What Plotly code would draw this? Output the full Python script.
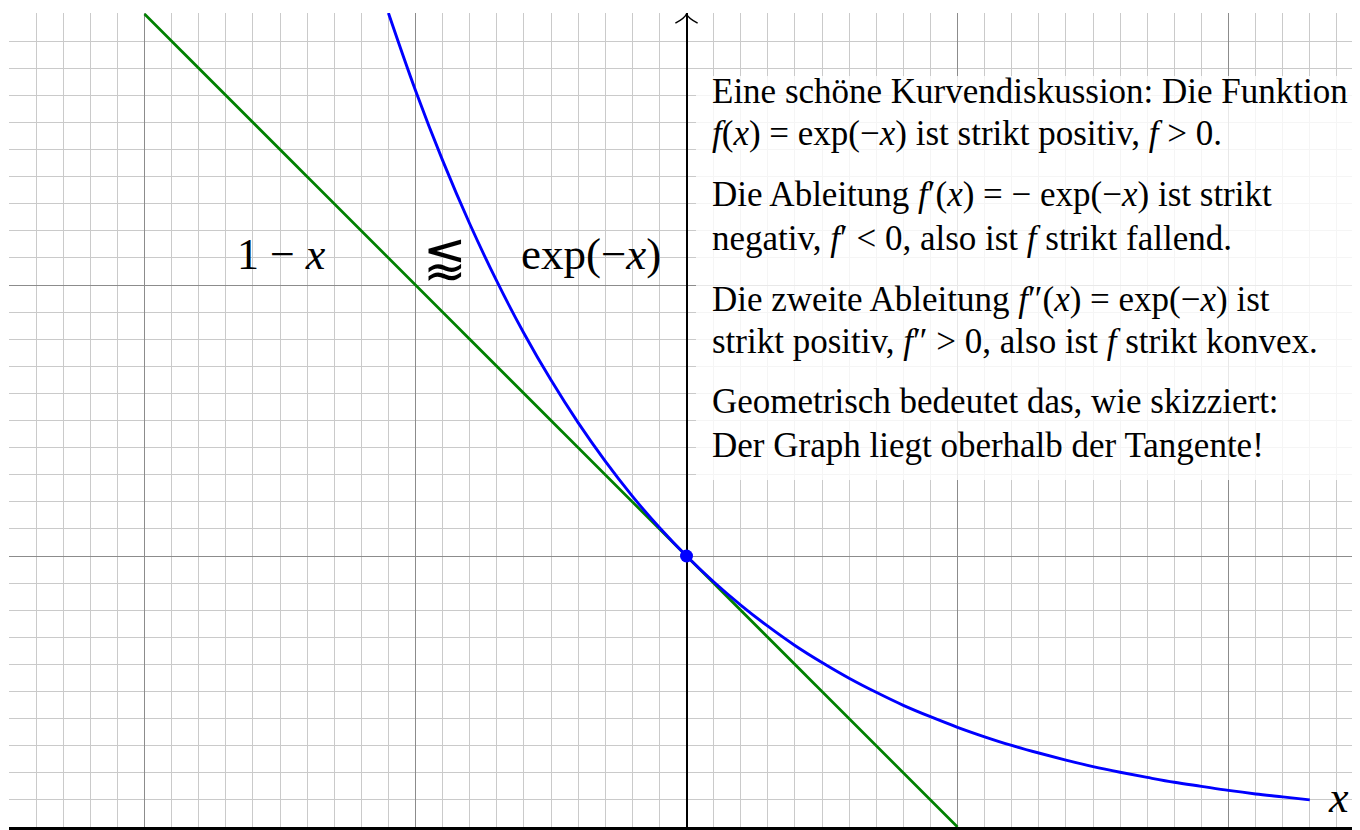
import plotly.graph_objects as go

# exp(-x)
curve_x = [-1.1, -1.0, -0.9, -0.8, -0.7, -0.6, -0.5, -0.4, -0.3, -0.2, -0.1, 0.0,
           0.1, 0.2, 0.3, 0.4, 0.5, 0.6, 0.7, 0.8, 0.9, 1.0, 1.1, 1.2, 1.3, 1.4,
           1.5, 1.6, 1.7, 1.8, 1.9, 2.0, 2.1, 2.2, 2.3]
curve_y = [3.004, 2.718, 2.460, 2.226, 2.014, 1.822, 1.649, 1.492, 1.350, 1.221,
           1.105, 1.000, 0.905, 0.819, 0.741, 0.670, 0.607, 0.549, 0.497, 0.449,
           0.407, 0.368, 0.333, 0.301, 0.273, 0.247, 0.223, 0.202, 0.183, 0.165,
           0.150, 0.135, 0.122, 0.111, 0.100]

# tangent 1 - x
tangent_x = [-2.0, 1.0]
tangent_y = [3.0, 0.0]

# point of contact
point_x = [0.0]
point_y = [1.0]

text_lines = [
    "Eine schöne Kurvendiskussion: Die Funktion",
    "<i>f</i>(<i>x</i>) = exp(−<i>x</i>) ist strikt positiv, <i>f</i> &gt; 0.",
    "Die Ableitung <i>f</i>′(<i>x</i>) = − exp(−<i>x</i>) ist strikt",
    "negativ, <i>f</i>′ &lt; 0, also ist <i>f</i> strikt fallend.",
    "Die zweite Ableitung <i>f</i>″(<i>x</i>) = exp(−<i>x</i>) ist",
    "strikt positiv, <i>f</i>″ &gt; 0, also ist <i>f</i> strikt konvex.",
    "Geometrisch bedeutet das, wie skizziert:",
    "Der Graph liegt oberhalb der Tangente!",
]
text_baselines = [103, 145, 206, 250, 311, 353, 413, 457]

# page body has an 8px margin, so the figure is a bit smaller than the window
PAGE_OFF = 8
W, H = 1360 - PAGE_OFF, 830 - PAGE_OFF
ML, MT, MB = 9 - PAGE_OFF, 13 - PAGE_OFF, 3
UNIT = 271.0
BOTTOM = 827  # page y of the x axis


def dx(px):
    return -2.5 + (px - 9) / UNIT


def dy(py):
    return (BOTTOM - py) / UNIT


SERIF = "Liberation Serif, Times New Roman, serif"

fig = go.Figure()

fig.add_trace(go.Scatter(x=tangent_x, y=tangent_y, mode="lines",
                         line=dict(color="#008000", width=2.7),
                         showlegend=False, hoverinfo="skip"))
fig.add_trace(go.Scatter(x=curve_x, y=curve_y, mode="lines",
                         line=dict(color="#0000ff", width=2.9, shape="spline"),
                         showlegend=False, hoverinfo="skip"))
fig.add_trace(go.Scatter(x=point_x, y=point_y, mode="markers",
                         marker=dict(color="#0000ff", size=13),
                         showlegend=False, hoverinfo="skip"))

# white, slightly see-through box behind the explanation
fig.add_shape(type="rect", x0=dx(696), x1=dx(1365), y0=dy(480), y1=dy(76),
              fillcolor="rgba(255,255,255,0.8)", line=dict(width=0), layer="above")

# arrow head of the y axis
fig.add_shape(type="path",
              path="M -0.041 2.966 Q -0.006 2.985 0 3.0 Q 0.006 2.985 0.041 2.966",
              line=dict(color="black", width=1.5), layer="above")

for line, base in zip(text_lines, text_baselines):
    fig.add_annotation(x=dx(710), y=dy(base - 12), text=line, showarrow=False,
                       xanchor="left", yanchor="middle",
                       font=dict(family=SERIF, size=35, color="black"))

fig.add_annotation(x=dx(281), y=dy(254), text="1 − <i>x</i>", showarrow=False,
                   font=dict(family=SERIF, size=44, color="black"))
fig.add_annotation(x=dx(591), y=dy(254), text="exp(−<i>x</i>)", showarrow=False,
                   font=dict(family=SERIF, size=45, color="black"))
fig.add_annotation(x=dx(445), y=dy(256), text="⪅", showarrow=False,
                   font=dict(family="DejaVu Sans, DejaVu Serif, serif", size=52, color="black"))
fig.add_annotation(x=dx(1338), y=dy(797), text="<i>x</i>", showarrow=False,
                   font=dict(family=SERIF, size=44, color="black"))

fig.update_xaxes(range=[-2.5, dx(1360)], tick0=0, dtick=1,
                 showgrid=True, gridcolor="rgb(140,140,140)", gridwidth=1,
                 minor=dict(dtick=0.1, tick0=0, showgrid=True,
                            gridcolor="rgb(202,202,202)", gridwidth=1),
                 zeroline=True, zerolinecolor="black", zerolinewidth=1.6,
                 showline=True, linecolor="black", linewidth=2.5,
                 showticklabels=False, ticks="", fixedrange=True)
fig.update_yaxes(range=[0, dy(13)], tick0=0, dtick=1,
                 showgrid=True, gridcolor="rgb(140,140,140)", gridwidth=1,
                 minor=dict(dtick=0.1, tick0=0, showgrid=True,
                            gridcolor="rgb(202,202,202)", gridwidth=1),
                 zeroline=False, showline=False,
                 showticklabels=False, ticks="", fixedrange=True)

fig.update_layout(width=W, height=H, autosize=False,
                  margin=dict(l=ML, r=0, t=MT, b=MB, pad=0),
                  paper_bgcolor="white", plot_bgcolor="white",
                  showlegend=False)

fig.write_html("out.html")
